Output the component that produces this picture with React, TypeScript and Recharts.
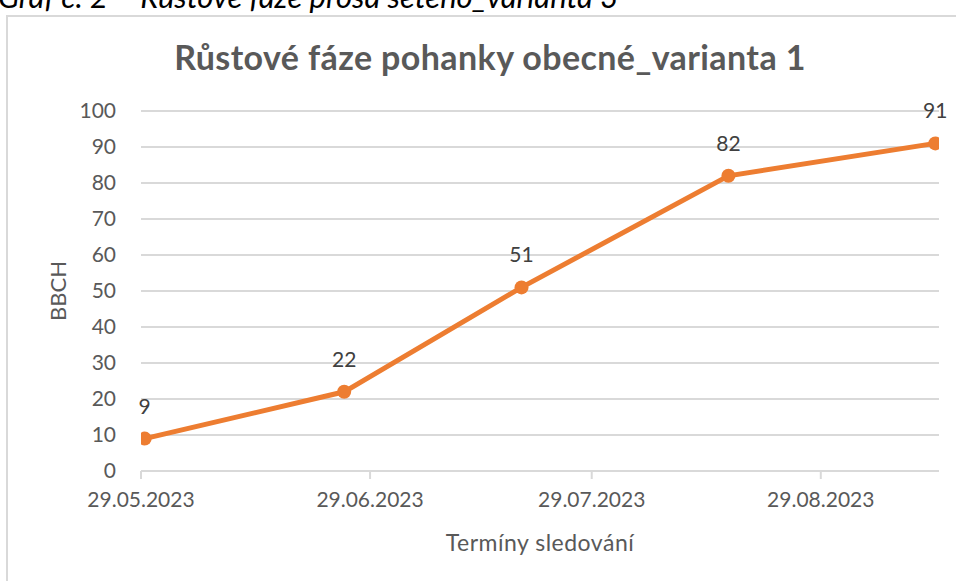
import React from 'react';
import { LineChart, Line, XAxis, YAxis, CartesianGrid, LabelList } from 'recharts';

const caption = 'Graf č. 2 – Růstové fáze prosa setého_varianta 3';
const chartTitle = 'Růstové fáze pohanky obecné_varianta 1';
const xAxisTitle = 'Termíny sledování';
const yAxisTitle = 'BBCH';

const observationDates = ['2023-05-29', '2023-06-25', '2023-07-19', '2023-08-16', '2023-09-13'];
const bbchValues = [9, 22, 51, 82, 91];
const xTickDates = ['2023-05-29', '2023-06-29', '2023-07-29', '2023-08-29'];
const yTicks = [0, 10, 20, 30, 40, 50, 60, 70, 80, 90, 100];

const DAY = 24 * 3600 * 1000;
const toTs = (s: string) => {
  const [y, m, d] = s.split('-').map(Number);
  return Date.UTC(y, m - 1, d);
};
const fmt = (ts: number) => {
  const d = new Date(ts);
  const dd = String(d.getUTCDate()).padStart(2, '0');
  const mm = String(d.getUTCMonth() + 1).padStart(2, '0');
  return `${dd}.${mm}.${d.getUTCFullYear()}`;
};

// Excel date axis: each point sits in the middle of its day
const data = observationDates.map((d, i) => ({ x: toTs(d) + DAY / 2, bbch: bbchValues[i] }));
const xDomain = [toTs(observationDates[0]), toTs(observationDates[observationDates.length - 1]) + DAY];
const xTicks = xTickDates.map(toTs);

const FONT = 'Lato, "Open Sans", sans-serif';
const TEXT = '#595959';
const GRID = '#d9d9d9';
const ORANGE = '#ED7D31';

export default function App() {
  return (
    <div style={{ position: 'absolute', left: 0, top: 0, width: 956, height: 581, overflow: 'hidden', background: '#fff', fontFamily: FONT }}>
      <div style={{ position: 'absolute', left: -2, top: -22, fontStyle: 'italic', fontSize: 31, lineHeight: '36px', color: '#000', whiteSpace: 'nowrap', fontFamily: FONT }}>
        {caption}
      </div>
      <div style={{ position: 'absolute', left: 6, top: 15, width: 1100, height: 800, border: `2px solid ${GRID}`, boxSizing: 'border-box', background: '#fff' }} />
      <div style={{ position: 'absolute', left: 0, top: 36, width: 980, textAlign: 'center', fontSize: 34, letterSpacing: 0.4, fontWeight: 700, color: TEXT, whiteSpace: 'nowrap' }}>
        {chartTitle}
      </div>
      <div style={{ position: 'absolute', left: 0, top: 0 }}>
        <LineChart width={956} height={581} data={data} margin={{ top: 111, right: 17, bottom: 0, left: 0 }}>
          <CartesianGrid vertical={false} stroke={GRID} strokeWidth={2} />
          <XAxis
            dataKey="x"
            type="number"
            scale="linear"
            domain={xDomain}
            ticks={xTicks}
            tickFormatter={fmt}
            height={110}
            stroke={GRID}
            strokeWidth={2}
            tickSize={8}
            tickMargin={13}
            tick={{ fill: TEXT, fontSize: 21, fontFamily: FONT }}
            allowDataOverflow
            label={{ value: xAxisTitle, position: 'insideBottom', offset: 30, fill: TEXT, fontSize: 23, letterSpacing: 0.5, fontFamily: FONT }}
          />
          <YAxis
            type="number"
            domain={[0, 100]}
            ticks={yTicks}
            width={141}
            axisLine={false}
            tickLine={false}
            tickMargin={19}
            tick={{ fill: TEXT, fontSize: 21, fontFamily: FONT }}
            label={{ value: yAxisTitle, angle: -90, position: 'insideLeft', offset: 58, fill: TEXT, fontSize: 22, fontFamily: FONT, style: { textAnchor: 'middle' } }}
          />
          <Line
            type="linear"
            dataKey="bbch"
            stroke={ORANGE}
            strokeWidth={5}
            dot={{ r: 7, fill: ORANGE, stroke: ORANGE, strokeWidth: 0 }}
            isAnimationActive={false}
          >
            <LabelList dataKey="bbch" position="top" offset={25} fill="#404040" fontSize={21} fontFamily={FONT} />
          </Line>
        </LineChart>
      </div>
    </div>
  );
}
